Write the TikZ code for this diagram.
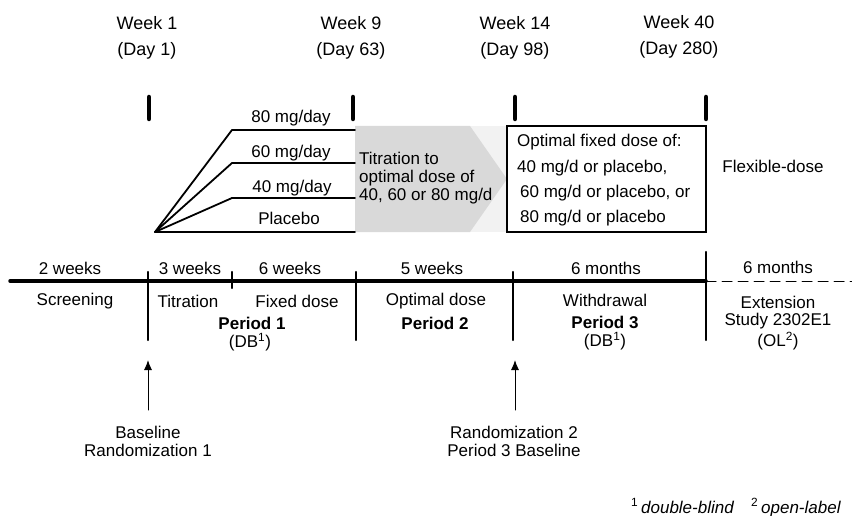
\documentclass[tikz,border=0pt]{standalone}
\usepackage{fontspec}
\setmainfont{Liberation Sans}
\usepackage{tikz}
\usetikzlibrary{calc, arrows.meta}
\usepackage{tkz-euclide}
\definecolor{arrowgray}{HTML}{D9D9D9}
\definecolor{lightgray}{HTML}{F2F2F2}

\begin{document}
\begin{tikzpicture}[x=1pt, y=-1pt, font=\fontsize{17}{18}\selectfont,
                    weeklabel/.style={font=\fontsize{18}{20}\selectfont},
                    period/.style={font=\fontsize{17}{18}\selectfont\bfseries, inner sep=1pt},
                    blind/.style={inner sep=1pt}]
                \useasboundingbox (0,0) rectangle (852,516);
                % time axis
                \tkzDefPoint(10,281){L}
                \tkzDefPoint(706,281){R}
                \tkzDefPoint(852,281){X}
                \tkzDefPoint(148,272){A1} \tkzDefPoint(148,340){A2}
                \tkzDefPoint(232,272){B1} \tkzDefPoint(232,288){B2}
                \tkzDefPoint(356,272){C1} \tkzDefPoint(356,340){C2}
                \tkzDefPoint(513,272){D1} \tkzDefPoint(513,340){D2}
                \tkzDefPoint(706,252){E1} \tkzDefPoint(706,340){E2}
                % week markers
                \tkzDefPoint(149,97){M1} \tkzDefPoint(149,119){N1}
                \tkzDefPoint(353,97){M2} \tkzDefPoint(353,119){N2}
                \tkzDefPoint(515,97){M3} \tkzDefPoint(515,119){N3}
                \tkzDefPoint(706,97){M4} \tkzDefPoint(706,119){N4}
                % dose arms
                \tkzDefPoint(155,232){O}
                \tkzDefPoint(232,130){H1} \tkzDefPoint(355,130){K1}
                \tkzDefPoint(232,163){H2} \tkzDefPoint(355,163){K2}
                \tkzDefPoint(232,198){H3} \tkzDefPoint(355,198){K3}
                \tkzDefPoint(355,232){K4}
                % titration arrow and box
                \tkzDefPoint(355,126){T1} \tkzDefPoint(470,126){T2}
                \tkzDefPoint(507,179){T3} \tkzDefPoint(470,232){T4}
                \tkzDefPoint(355,232){T5} \tkzDefPoint(507,126){T6}
                \tkzDefPoint(507,126){Q1} \tkzDefPoint(706,232){Q2}
                % randomisation arrows
                \tkzDefPoint(148,410){U1} \tkzDefPoint(148,360){V1}
                \tkzDefPoint(515,410){U2} \tkzDefPoint(515,360){V2}

                \fill[lightgray] (T1) rectangle (T4 -| T6);
                \fill[arrowgray] (T1) -- (T2) -- (T3) -- (T4) -- (T5) -- cycle;
                \draw[line width=1.8pt] (Q1) rectangle (Q2);
                \tkzDrawSegments[line width=3.5pt](L,R)
                \tkzDrawSegments[line width=1pt, dash pattern=on 10pt off 6pt](R,X)
                \tkzDrawSegments[line width=2.2pt](A1,A2 B1,B2 C1,C2 D1,D2 E1,E2)
                \tkzDrawSegments[line width=4.5pt](M1,N1 M2,N2 M3,N3 M4,N4)
                \tkzDrawSegments[line width=1.8pt](O,H1 H1,K1 O,H2 H2,K2 O,H3 H3,K3 O,K4)
                \tkzDrawSegments[line width=1pt, -{Latex[length=10pt, width=8pt]}](U1,V1 U2,V2)

                \node[weeklabel] (wk1) at (147,23) {Week 1};
                \node[weeklabel] (dy1) at (147,51) {(Day 1)};
                \node[weeklabel] (wk9) at (351,23) {Week 9};
                \node[weeklabel] (dy9) at (351,51) {(Day 63)};
                \node[weeklabel] (wk14) at (515,23) {Week 14};
                \node[weeklabel] (dy14) at (515,51) {(Day 98)};
                \node[weeklabel] (wk40) at (679,22) {Week 40};
                \node[weeklabel] (dy40) at (679,50) {(Day 280)};

                \node (d80) at (291,118) {80 mg/day};
                \node (d60) at (291,153) {60 mg/day};
                \node (d40) at (292,188) {40 mg/day};
                \node (plc) at (289,218) {Placebo};
                \node[anchor=west, align=left, inner sep=0pt] (tit) at (359,178)
                    {Titration to\\optimal dose of\\40, 60 or 80 mg/d};
                \node[anchor=west, inner sep=0pt] (ofd) at (517,142) {Optimal fixed dose of:};
                \node[anchor=west, inner sep=0pt] (o40) at (517,168) {40 mg/d or placebo,};
                \node[anchor=west, inner sep=0pt] (o60) at (520,193) {60 mg/d or placebo, or};
                \node[anchor=west, inner sep=0pt] (o80) at (520,218) {80 mg/d or placebo};
                \node (flx) at (773,166) {Flexible-dose};

                \node (w2) at (70,268) {2 weeks};
                \node (w3) at (190,268) {3 weeks};
                \node (w6) at (290,268) {6 weeks};
                \node (w5) at (432,268) {5 weeks};
                \node (m6a) at (606,268) {6 months};
                \node (m6b) at (778,267) {6 months};

                \node (scr) at (75,301) {Screening};
                \node (titr) at (188,301) {Titration};
                \node (fix) at (297,301) {Fixed dose};
                \node (opt) at (436,301) {Optimal dose};
                \node (wdr) at (605,300) {Withdrawal};
                \node[blind] (ext) at (778,302) {Extension};
                \node[period] (p1) at (252,323) {Period 1};
                \node[blind] (db1) at (250,342) {(DB\textsuperscript{1})};
                \node[period] (p2) at (435,323) {Period 2};
                \node[period] (p3) at (605,322) {Period 3};
                \node[blind] (db3) at (605,341) {(DB\textsuperscript{1})};
                \node[blind] (std) at (778,321) {Study 2302E1};
                \node[blind] (ol) at (778,341) {(OL\textsuperscript{2})};

                \node (bsl) at (148,432) {Baseline};
                \node (rnd1) at (148,450) {Randomization 1};
                \node (rnd2) at (514,432) {Randomization 2};
                \node (p3b) at (514,450) {Period 3 Baseline};
                \node[anchor=base west, inner sep=0pt] (fn) at (631,513)
                    {\textsuperscript{1}\,\textit{double-blind}\quad\textsuperscript{2}\,\textit{open-label}};
            \end{tikzpicture}
\end{document}
